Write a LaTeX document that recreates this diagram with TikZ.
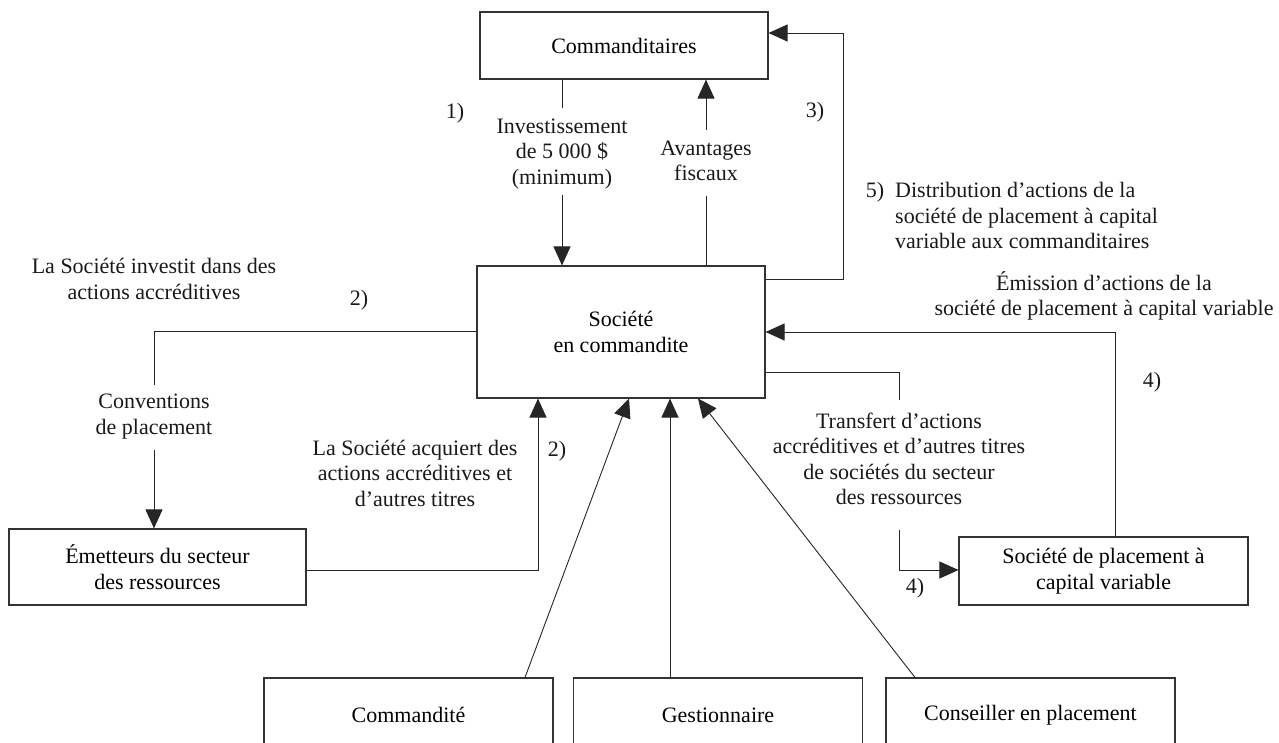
\documentclass[tikz,border=0pt]{standalone}
\usepackage{fontspec}
\setmainfont{Liberation Serif}
\usetikzlibrary{arrows.meta}
\newcommand\figfont{\fontsize{22pt}{25.5pt}\selectfont}
\begin{document}
\begin{tikzpicture}[x=1pt,y=-1pt,
  box/.style={draw=black!80, line width=1.1pt, align=center, inner sep=0pt, font=\figfont, fill=white},
  lbl/.style={align=center, inner sep=0pt, font=\figfont, text=black!90},
  conn/.style={draw=black!85, line width=0.9pt},
  arr/.style={conn, -{Triangle[length=19pt,width=17pt]}}]
\useasboundingbox (0,0) rectangle (1279,742);
\clip (0,0) rectangle (1279,742);

% boxes
\node[box, minimum width=288pt, minimum height=67pt] (cmd) at (624,45.5) {Commanditaires};
\node[box, minimum width=288pt, minimum height=132pt] (soc) at (621,332) {Société\\en commandite};
\node[box, minimum width=297pt, minimum height=76pt] (emet) at (157.5,567) {Émetteurs du secteur\\des ressources};
\node[box, minimum width=289pt, minimum height=68pt] (spcv) at (1103.5,571) {Société de placement à\\capital variable};
\node[box, minimum width=289pt, minimum height=74pt] (cmdt) at (408.5,715) {Commandité};
\node[box, minimum width=289pt, minimum height=74pt] (gest) at (718,715) {Gestionnaire};
\node[box, minimum width=289pt, minimum height=74pt] (cons) at (1030.5,715) {Conseiller en placement};

% labels
\node[lbl] (inv) at (562,153.6) {Investissement\\de 5~000~\$\\(minimum)};
\node[lbl] (avf) at (706,161) {Avantages\\fiscaux};
\node[lbl] (conv) at (154,416.6) {Conventions\\de placement};
\node[lbl] (trf) at (899,459) {Transfert d’actions\\accréditives et d’autres titres\\de sociétés du secteur\\des ressources};
\node[lbl] (invd) at (154,279) {La Société investit dans des\\actions accréditives};
\node[lbl] (acq) at (415,473) {La Société acquiert des\\actions accréditives et\\d’autres titres};
\node[lbl, align=left, anchor=north west] (dist) at (895,182.5) {Distribution d’actions de la\\société de placement à capital\\variable aux commanditaires};
\node[lbl] (emis) at (1104,296) {Émission d’actions de la\\société de placement à capital variable};

\node[lbl] (n1) at (455,113) {1)};
\node[lbl] (n3) at (815,112) {3)};
\node[lbl] (n5) at (875,192) {5)};
\node[lbl] (n2a) at (359,300) {2)};
\node[lbl] (n2b) at (557,451) {2)};
\node[lbl] (n4a) at (1152,382) {4)};
\node[lbl] (n4b) at (915,588) {4)};

% connectors
\draw[conn] (cmd.south -| inv.north) -- ([yshift=10pt]inv.north);
\draw[arr] ([yshift=-6pt]inv.south) -- (soc.north -| inv.south);

\draw[conn] (soc.north -| avf.south) -- ([yshift=-14.5pt]avf.south);
\draw[arr] ([yshift=11pt]avf.north) -- (cmd.south -| avf.north);

\draw[arr] (soc.east |- 0,279) -| (843,33) -- (cmd.east |- 0,33);

\draw[conn] (soc.west |- 0,331) -| ([yshift=9pt]conv.north);
\draw[arr] ([yshift=-11pt]conv.south) -- (emet.north -| conv.south);

\draw[arr] (emet.east |- 0,570) -| (soc.south -| 538,0);

\draw[arr] ([xshift=116.5pt]cmdt.north) -- ([xshift=8pt]soc.south);
\draw[arr] ([xshift=-48pt]gest.north) -- ([xshift=-48pt]gest.north |- soc.south);
\draw[arr] ([xshift=-115.5pt]cons.north) -- ([xshift=77pt]soc.south);

\draw[conn] (soc.east |- 0,372) -| ([yshift=13pt]trf.north);
\draw[arr] ([yshift=-24.5pt]trf.south) |- (spcv.west |- 0,570);

\draw[arr] (spcv.north -| 1115,0) |- (soc.east |- 0,332);
\end{tikzpicture}
\end{document}
